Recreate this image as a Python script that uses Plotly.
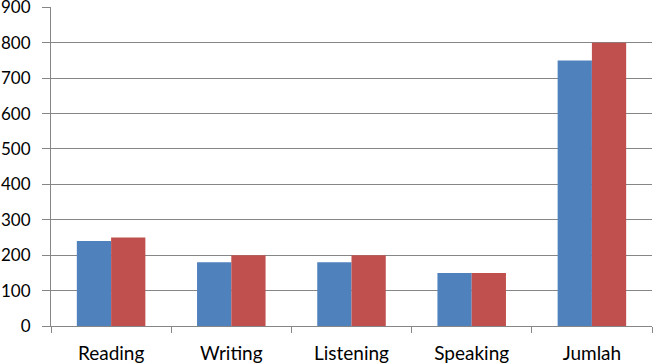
import plotly.graph_objects as go

categories = ["Reading", "Writing", "Listening", "Speaking", "Jumlah"]
series_a = [240, 180, 180, 150, 750]
series_b = [250, 200, 200, 150, 800]
y_ticks = [0, 100, 200, 300, 400, 500, 600, 700, 800, 900]

grid = "#868686"
fig = go.Figure()
fig.add_trace(go.Bar(x=categories, y=series_a, marker=dict(color="#4F81BD", line=dict(width=0)), showlegend=False))
fig.add_trace(go.Bar(x=categories, y=series_b, marker=dict(color="#C0504D", line=dict(width=0)), showlegend=False))

fig.update_layout(
    width=653, height=363,
    margin=dict(l=51, r=1, t=7, b=37, autoexpand=False),
    paper_bgcolor="white", plot_bgcolor="white",
    barmode="group", bargap=0.43, bargroupgap=0,
    font=dict(family="Lato, Open Sans, sans-serif", size=19, color="black"),
    xaxis=dict(
        showline=True, linecolor=grid, linewidth=1,
        ticks="outside", tickson="boundaries", ticklen=6, tickcolor=grid,
        showgrid=False, tickfont=dict(size=19), automargin=False,
        ticklabelstandoff=10,
    ),
    yaxis=dict(
        range=[0, 901], tickvals=y_ticks, ticktext=[str(v) for v in y_ticks],
        showline=True, linecolor=grid, linewidth=1,
        ticks="outside", ticklen=8, tickcolor=grid,
        showgrid=True, gridcolor=grid, gridwidth=1, zeroline=False,
        tickfont=dict(size=17), automargin=False, ticklabelstandoff=8,
        ticklabeloverflow="allow",
    ),
)
fig.write_html("out.html", config={"displayModeBar": False},
               post_script="document.body.style.margin='0';")
